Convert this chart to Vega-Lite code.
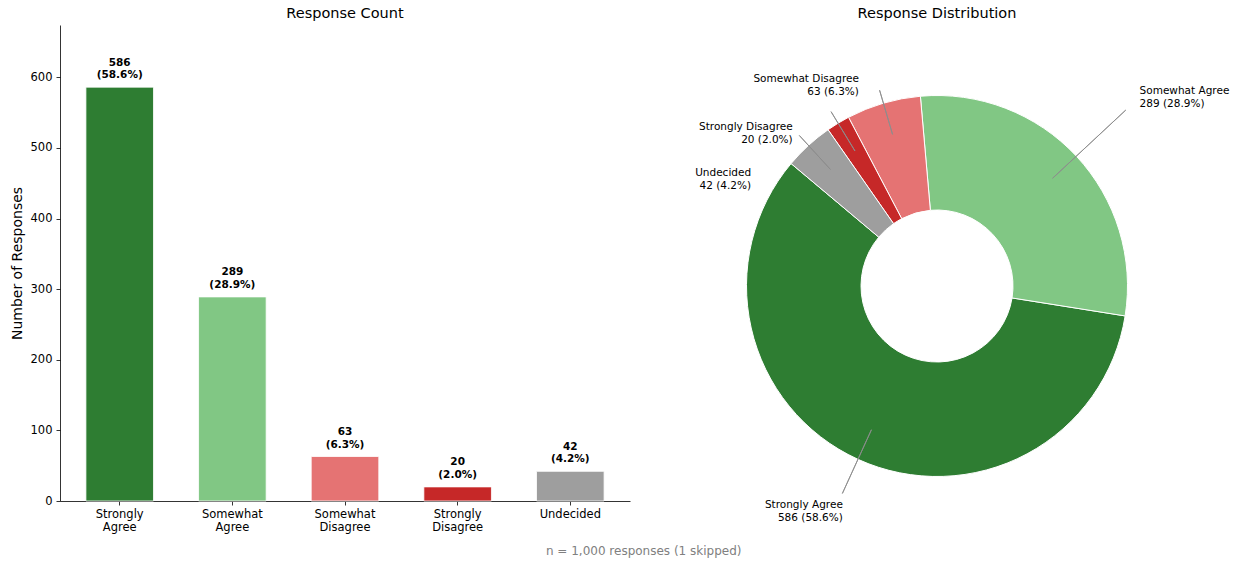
{
  "$schema": "https://vega.github.io/schema/vega-lite/v6.json",
  "background": "white",
  "padding": {"left": 10, "top": 5, "right": 5, "bottom": 5},
  "spacing": 57,
  "config": {"font": "DejaVu Sans", "view": {"stroke": null}},
  "title": {"text": "n = 1,000 responses (1 skipped)", "orient": "bottom", "anchor": "middle", "fontSize": 12, "fontWeight": "normal", "color": "#808080", "offset": -1, "dx": 24},
  "datasets": {
    "responses": [
      {"category": "Strongly Agree", "count": 586, "idx": 1, "barLabel": ["586", "(58.6%)"], "pieLabel": ["Strongly Agree", "586 (58.6%)"]},
      {"category": "Somewhat Agree", "count": 289, "idx": 2, "barLabel": ["289", "(28.9%)"], "pieLabel": ["Somewhat Agree", "289 (28.9%)"]},
      {"category": "Somewhat Disagree", "count": 63, "idx": 3, "barLabel": ["63", "(6.3%)"], "pieLabel": ["Somewhat Disagree", "63 (6.3%)"]},
      {"category": "Strongly Disagree", "count": 20, "idx": 4, "barLabel": ["20", "(2.0%)"], "pieLabel": ["Strongly Disagree", "20 (2.0%)"]},
      {"category": "Undecided", "count": 42, "idx": 5, "barLabel": ["42", "(4.2%)"], "pieLabel": ["Undecided", "42 (4.2%)"]}
    ]
  },
  "hconcat": [
    {
      "width": 570,
      "height": 476,
      "title": {"text": "Response Count", "fontSize": 14.5, "fontWeight": "normal", "color": "#000000", "offset": 4},
      "data": {"name": "responses"},
      "encoding": {
        "x": {
          "field": "category", "type": "nominal",
          "sort": ["Strongly Agree", "Somewhat Agree", "Somewhat Disagree", "Strongly Disagree", "Undecided"],
          "scale": {"paddingInner": 0.4, "paddingOuter": 0.23},
          "axis": {"title": null, "labelAngle": 0, "labelExpr": "split(datum.label, ' ')", "labelFontSize": 11.5, "labelColor": "#000000", "labelLineHeight": 13, "labelPadding": 3, "tickSize": 4, "tickColor": "#000000", "tickWidth": 0.8, "domainColor": "#000000", "domainWidth": 0.8}
        },
        "y": {
          "field": "count", "type": "quantitative",
          "scale": {"domain": [0, 674], "nice": false},
          "axis": {"title": "Number of Responses", "titleFontSize": 14, "titleFontWeight": "normal", "titleColor": "#000000", "titlePadding": 6, "values": [0, 100, 200, 300, 400, 500, 600], "labelFontSize": 11.5, "labelColor": "#000000", "labelPadding": 4, "grid": false, "tickSize": 4, "tickColor": "#000000", "tickWidth": 0.8, "domainColor": "#000000", "domainWidth": 0.8}
        }
      },
      "layer": [
        {
          "mark": {"type": "bar", "stroke": "white", "strokeWidth": 0.8},
          "encoding": {
            "color": {"field": "category", "type": "nominal", "legend": null,
              "scale": {"domain": ["Strongly Agree", "Somewhat Agree", "Somewhat Disagree", "Strongly Disagree", "Undecided"], "range": ["#2e7d32", "#81c784", "#e57373", "#c62828", "#9e9e9e"]}}
          }
        },
        {
          "mark": {"type": "text", "baseline": "bottom", "dy": -19.5, "fontSize": 10.5, "fontWeight": "bold", "lineHeight": 12.5, "color": "#000000"},
          "encoding": {"text": {"field": "barLabel"}}
        }
      ]
    },
    {
      "width": 500,
      "height": 522,
      "title": {"text": "Response Distribution", "fontSize": 14.5, "fontWeight": "normal", "color": "#000000", "offset": 4},
      "data": {"name": "responses"},
      "transform": [{"stack": "count", "groupby": [], "sort": [{"field": "idx", "order": "descending"}], "as": ["t0", "t1"]}],
      "layer": [
        {
          "mark": {"type": "arc", "innerRadius": 76, "outerRadius": 190.5, "stroke": "white", "strokeWidth": 1},
          "encoding": {
            "theta": {"field": "t0", "type": "quantitative", "scale": {"domain": [0, 1000], "range": [-0.8727, 5.4105]}},
            "theta2": {"field": "t1"},
            "color": {"field": "category", "type": "nominal", "legend": null,
              "scale": {"domain": ["Strongly Agree", "Somewhat Agree", "Somewhat Disagree", "Strongly Disagree", "Undecided"], "range": ["#2e7d32", "#81c784", "#e57373", "#c62828", "#9e9e9e"]}}
          }
        },
        {
          "transform": [{"filter": "datum.category === 'Somewhat Agree'"}],
          "mark": {"type": "arc", "innerRadius": 158, "outerRadius": 258, "padAngle": 3, "filled": false, "stroke": "#8c8c8c", "strokeWidth": 0.9},
          "encoding": {"theta": {"field": "t0", "type": "quantitative"}, "theta2": {"field": "t1"}}
        },
        {
          "transform": [{"filter": "datum.category === 'Strongly Agree'"}],
          "mark": {"type": "arc", "innerRadius": 158, "outerRadius": 228, "padAngle": 3, "thetaOffset": 0.35, "theta2Offset": -0.35, "filled": false, "stroke": "#8c8c8c", "strokeWidth": 0.9},
          "encoding": {"theta": {"field": "t0", "type": "quantitative"}, "theta2": {"field": "t1"}}
        },
        {
          "transform": [{"filter": "datum.idx >= 3"}],
          "mark": {"type": "arc", "innerRadius": 158, "outerRadius": 204, "padAngle": 3, "filled": false, "stroke": "#8c8c8c", "strokeWidth": 0.9},
          "encoding": {"theta": {"field": "t0", "type": "quantitative"}, "theta2": {"field": "t1"}}
        },
        {
          "transform": [{"filter": "datum.category === 'Somewhat Agree'"}],
          "mark": {"type": "text", "radius": 277, "thetaOffset": 0.9076, "align": "left", "baseline": "middle", "dy": -6.5, "fontSize": 10.5, "lineHeight": 13, "color": "#000000"},
          "encoding": {"theta": {"field": "t0", "type": "quantitative"}, "text": {"field": "pieLabel"}}
        },
        {
          "transform": [{"filter": "datum.category === 'Strongly Agree'"}],
          "mark": {"type": "text", "radius": 244, "thetaOffset": 1.8092, "align": "right", "baseline": "middle", "dy": -6.5, "fontSize": 10.5, "lineHeight": 13, "color": "#000000"},
          "encoding": {"theta": {"field": "t0", "type": "quantitative"}, "text": {"field": "pieLabel"}}
        },
        {
          "transform": [{"filter": "datum.category === 'Somewhat Disagree'"}],
          "mark": {"type": "text", "radius": 215, "thetaOffset": 0.1114, "align": "right", "baseline": "middle", "dy": -6.5, "fontSize": 10.5, "lineHeight": 13, "color": "#000000"},
          "encoding": {"theta": {"field": "t0", "type": "quantitative"}, "text": {"field": "pieLabel"}}
        },
        {
          "transform": [{"filter": "datum.category === 'Strongly Disagree'"}],
          "mark": {"type": "text", "radius": 210, "thetaOffset": -0.1487, "align": "right", "baseline": "middle", "dy": -6.5, "fontSize": 10.5, "lineHeight": 13, "color": "#000000"},
          "encoding": {"theta": {"field": "t0", "type": "quantitative"}, "text": {"field": "pieLabel"}}
        },
        {
          "transform": [{"filter": "datum.category === 'Undecided'"}],
          "mark": {"type": "text", "radius": 214, "thetaOffset": -0.1798, "align": "right", "baseline": "middle", "dy": -6.5, "fontSize": 10.5, "lineHeight": 13, "color": "#000000"},
          "encoding": {"theta": {"field": "t0", "type": "quantitative"}, "text": {"field": "pieLabel"}}
        }
      ]
    }
  ]
}
